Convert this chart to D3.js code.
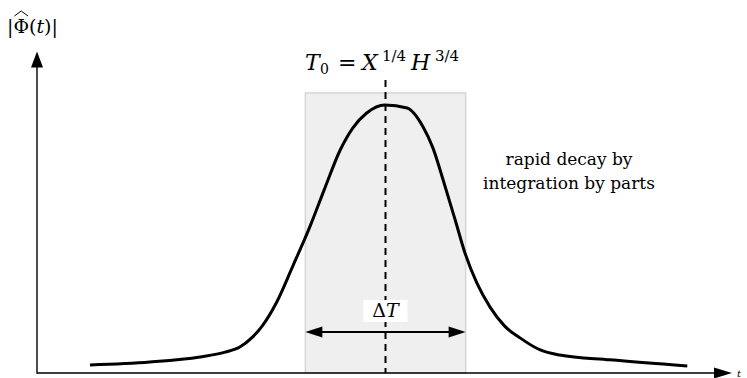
<!DOCTYPE html>
<html>
<head>
<meta charset="utf-8">
<script src="https://cdn.jsdelivr.net/npm/d3@7"></script>
<style>
  html, body { margin: 0; padding: 0; background: #fff; }
  svg { display: block; }
  text { font-family: "DejaVu Serif", "Liberation Serif", serif; fill: #000; }
</style>
</head>
<body>
<svg id="chart" width="747" height="378"></svg>
<script>
// Sampled profile of |Φ̂(t)|: t in arbitrary units, value normalised to the peak
const tValues = [7.6, 16.2, 23.4, 27.0, 29.1, 30.8, 32.3, 34.4, 36.7, 39.2, 41.3, 43.5, 45.3, 47.3, 49.9,
                 53.1, 55.4, 56.8, 58.4, 60.0, 61.4, 63.1, 65.0, 67.1, 69.3, 72.2, 75.0, 82.2, 93.3];
const phiValues = [0.030, 0.041, 0.060, 0.078, 0.097, 0.131, 0.175, 0.265, 0.399, 0.549, 0.690, 0.832, 0.914, 0.970, 1.000,
                   0.989, 0.918, 0.840, 0.709, 0.571, 0.448, 0.336, 0.246, 0.175, 0.131, 0.086, 0.067, 0.049, 0.026];

// Centre of the window and its width
const T0 = 50;
const deltaT = 23;

const xLabel = "t";
const noteLines = ["rapid decay by", "integration by parts"];

const svg = d3.select("#chart");

const x = d3.scaleLinear().domain([0, 100]).range([37, 734]);
const y = d3.scaleLinear().domain([0, 1]).range([373, 105]);

// Shaded window [T0 - ΔT/2, T0 + ΔT/2]
svg.append("rect")
  .attr("x", x(T0 - deltaT / 2))
  .attr("y", y(1.045))
  .attr("width", x(T0 + deltaT / 2) - x(T0 - deltaT / 2))
  .attr("height", y(0) - y(1.045))
  .attr("fill", "#efefef")
  .attr("stroke", "#d6d6d6")
  .attr("stroke-width", 1.5);

// Vertical dashed line at T0
svg.append("line")
  .attr("x1", x(T0)).attr("x2", x(T0))
  .attr("y1", y(1.093)).attr("y2", y(0))
  .attr("stroke", "#000")
  .attr("stroke-width", 2)
  .attr("stroke-dasharray", "7,5");

// Axes
const axisEnd = x(100) - 2;
svg.append("line")
  .attr("x1", x(0)).attr("x2", axisEnd - 14)
  .attr("y1", y(0)).attr("y2", y(0))
  .attr("stroke", "#000").attr("stroke-width", 1.4);
svg.append("path")
  .attr("d", `M${axisEnd},${y(0)} L${axisEnd - 18},${y(0) - 5.5} L${axisEnd - 18},${y(0) + 5.5} Z`)
  .attr("fill", "#000");

const yTop = y(1.2);
svg.append("line")
  .attr("x1", x(0)).attr("x2", x(0))
  .attr("y1", y(0) + 0.7).attr("y2", yTop + 14)
  .attr("stroke", "#000").attr("stroke-width", 1.4);
svg.append("path")
  .attr("d", `M${x(0)},${yTop} L${x(0) - 6},${yTop + 16} L${x(0) + 6},${yTop + 16} Z`)
  .attr("fill", "#000");

// Curve
const line = d3.line()
  .x((d, i) => x(tValues[i]))
  .y(d => y(d))
  .curve(d3.curveMonotoneX);
svg.append("path")
  .attr("d", line(phiValues))
  .attr("fill", "none")
  .attr("stroke", "#000")
  .attr("stroke-width", 3)
  .attr("stroke-linejoin", "round");

// ΔT double arrow
const ay = 332;
const xl = x(T0 - deltaT / 2), xr = x(T0 + deltaT / 2);
svg.append("line")
  .attr("x1", xl + 12).attr("x2", xr - 12)
  .attr("y1", ay).attr("y2", ay)
  .attr("stroke", "#000").attr("stroke-width", 2);
svg.append("path")
  .attr("d", `M${xl},${ay} L${xl + 17},${ay - 5.5} L${xl + 17},${ay + 5.5} Z`)
  .attr("fill", "#000");
svg.append("path")
  .attr("d", `M${xr},${ay} L${xr - 17},${ay - 5.5} L${xr - 17},${ay + 5.5} Z`)
  .attr("fill", "#000");

// ΔT label on white
svg.append("rect")
  .attr("x", x(T0) - 22).attr("y", 300)
  .attr("width", 44).attr("height", 22)
  .attr("fill", "#fff");
const dt = svg.append("text")
  .attr("x", x(T0)).attr("y", 317)
  .attr("text-anchor", "middle")
  .attr("font-size", 19);
dt.append("tspan").text("Δ");
dt.append("tspan").attr("font-style", "italic").text("T");

// T0 = X^{1/4} H^{3/4}, set piece by piece
const t0 = svg.append("text")
  .attr("y", 70)
  .attr("font-size", 22);
t0.append("tspan").attr("x", 305).attr("font-style", "italic").text("T");
t0.append("tspan").attr("x", 320).attr("y", 74).attr("font-size", 14).text("0");
t0.append("tspan").attr("x", 338).attr("y", 70).text("=");
t0.append("tspan").attr("x", 362).attr("y", 70).attr("font-style", "italic").text("X");
t0.append("tspan").attr("x", 382).attr("y", 61).attr("font-size", 15).text("1/4");
t0.append("tspan").attr("x", 411).attr("y", 70).attr("font-style", "italic").text("H");
t0.append("tspan").attr("x", 435).attr("y", 61).attr("font-size", 15).text("3/4");

// Note on the tails
const note = svg.append("text")
  .attr("x", 569).attr("y", 165)
  .attr("text-anchor", "middle")
  .attr("font-size", 17);
noteLines.forEach((s, i) => {
  note.append("tspan").attr("x", 569).attr("dy", i === 0 ? 0 : 24).text(s);
});

// y label |Φ̂(t)|
const yl = svg.append("text")
  .attr("x", 7).attr("y", 33)
  .attr("font-size", 19);
yl.append("tspan").text("|Φ(");
yl.append("tspan").attr("font-style", "italic").text("t");
yl.append("tspan").text(")|");
const phiBox = yl.node().getExtentOfChar(1);
const hx0 = phiBox.x + 1, hx1 = phiBox.x + phiBox.width - 1;
const hy = 16;
svg.append("path")
  .attr("d", `M${hx0},${hy} L${(hx0 + hx1) / 2},${hy - 5} L${hx1},${hy}`)
  .attr("fill", "none")
  .attr("stroke", "#000")
  .attr("stroke-width", 1);

// x label at the right end of the axis
svg.append("text")
  .attr("x", 737).attr("y", 377)
  .attr("font-size", 10)
  .attr("font-style", "italic")
  .text(xLabel);
</script>
</body>
</html>
